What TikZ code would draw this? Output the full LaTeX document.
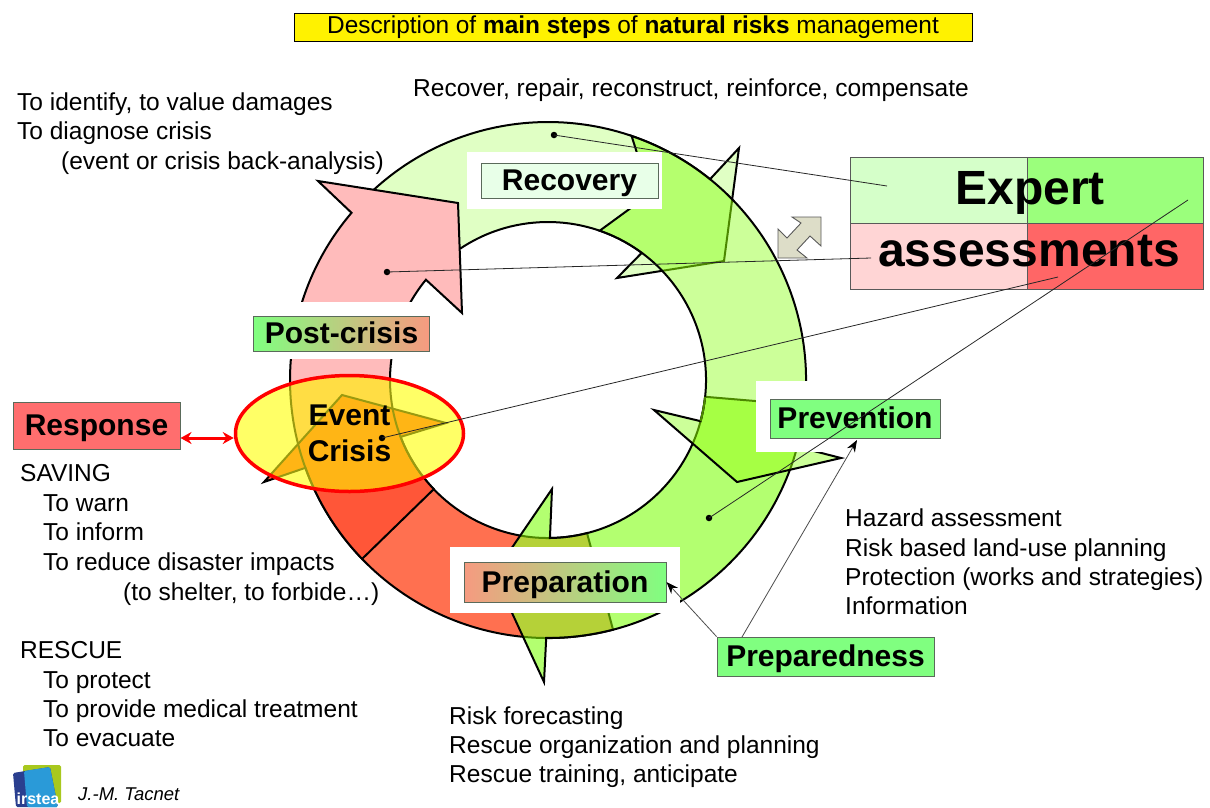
\documentclass[tikz,border=0pt]{standalone}
\usepackage{fontspec}
\setmainfont{Liberation Sans}
\usetikzlibrary{arrows.meta,shapes.geometric}
\definecolor{cRec}{HTML}{E0FFC4}
\definecolor{cRecOv}{HTML}{B5FF6E}
\definecolor{cPrev}{HTML}{CCFF99}
\definecolor{cPrevOv}{HTML}{A6FF44}
\definecolor{cPrep}{HTML}{B3FF70}
\definecolor{cPrepOv}{HTML}{B5D138}
\definecolor{cRed}{HTML}{FF7050}
\definecolor{cRedOv}{HTML}{FF5638}
\definecolor{cPink}{HTML}{FFBBBB}
\definecolor{cDk}{HTML}{4C8800}
\definecolor{cOl}{HTML}{9A9A10}
\definecolor{cEllY}{HTML}{FFFF66}
\definecolor{cEllP}{HTML}{FFDD44}
\definecolor{cEllO}{HTML}{FFB515}
\definecolor{cGreenBox}{HTML}{80FF80}
\definecolor{cSalmon}{HTML}{F69A80}
\definecolor{cEdge}{HTML}{5A6A5A}
\definecolor{cRecBox}{HTML}{E8FFE8}
\definecolor{cResp}{HTML}{FF6E6E}
\definecolor{cGrey}{HTML}{DDDDC8}
\definecolor{cTL}{HTML}{D5FFC9}
\definecolor{cTR}{HTML}{9BFF7C}
\definecolor{cBL}{HTML}{FFD5D5}
\definecolor{cBR}{HTML}{FF6666}
\definecolor{cLogoG}{HTML}{A8C81E}
\definecolor{cLogoB}{HTML}{2A9AD8}
\definecolor{cLogoN}{HTML}{2A3F8F}
% ring paths (angles run clockwise on screen because the y axis points down)
\newcommand{\pathRec}{([shift={(548,380)}]227.6:258) arc[start angle=227.6,end angle=308.9,radius=258] -- (739,148) -- (724,261) -- (617,278) -- ([shift={(548,380)}]306.4:158) arc[start angle=306.4,end angle=236.5,radius=158] -- cycle}
\newcommand{\pathPrev}{([shift={(548,380)}]288.9:258) arc[start angle=288.9,end angle=375,radius=258] -- (841,458) -- (737,482) -- (654,410) -- ([shift={(548,380)}]15.1:158) arc[start angle=375.1,end angle=289.1,radius=158] -- (650,194) -- cycle}
\newcommand{\pathPrep}{([shift={(548,380)}]5.6:258) arc[start angle=5.6,end angle=90.4,radius=258] -- (544,682) -- (494,574) -- (552,489) -- ([shift={(548,380)}]89.3:158) arc[start angle=89.3,end angle=6.1,radius=158] -- cycle}
\newcommand{\pathRed}{([shift={(548,380)}]75.4:258) arc[start angle=75.4,end angle=160.1,radius=258] -- (264,482) -- (342,395) -- (446,423) -- ([shift={(548,380)}]158.9:158) arc[start angle=158.9,end angle=75.7,radius=158] -- cycle}
\newcommand{\pathPink}{([shift={(548,380)}]136.1:258) arc[start angle=136.1,end angle=220.4,radius=258] -- (318,181) -- (458,203) -- (462,313) -- ([shift={(548,380)}]219.4:158) arc[start angle=219.4,end angle=136.3,radius=158] -- cycle}
\tikzset{
  x=1pt,y=-1pt,
  ringline/.style={line width=2pt,line join=miter},
  plain/.style={anchor=base west,inner sep=0pt,font=\fontsize{24.5}{29}\selectfont},
  lab/.style={draw=cEdge,line width=1pt,anchor=center,inner sep=0pt,text height=20pt,text depth=0pt,font=\fontsize{30}{34}\selectfont\bfseries},
  dotn/.style={circle,fill=black,inner sep=0pt,minimum size=6.5pt},
  leader/.style={line width=0.8pt,draw=black!85},
  bigw/.style={anchor=center,inner sep=0pt,font=\fontsize{48}{52}\selectfont\bfseries},
  tiparrow/.style={line width=0.8pt,draw=black!70,-{Stealth[length=12pt,width=9pt,black]}}
}
\begin{document}
\begin{tikzpicture}
\useasboundingbox (0,0) rectangle (1210,807);
% red arrow, recovery arrow
\fill[cRed] \pathRed;
\draw[ringline] \pathRed;
\fill[cRec] \pathRec;
\draw[ringline] \pathRec;
% pink arrow
\fill[cPink] \pathPink;
\begin{scope}\clip \pathPink; \fill[cRedOv] \pathRed; \end{scope}
\draw[ringline] \pathPink;
% preparation arrow over red
\fill[cPrep] \pathPrep;
\begin{scope}\clip \pathPrep; \fill[cPrepOv] \pathRed; \draw[ringline,cDk] \pathRed; \end{scope}
\draw[ringline] \pathPrep;
% prevention arrow over recovery and preparation
\fill[cPrev] \pathPrev;
\begin{scope}\clip \pathPrev;
  \fill[cRecOv] \pathRec; \fill[cPrevOv] \pathPrep;
  \draw[ringline,cDk] \pathRec; \draw[ringline,cDk] \pathPrep;
\end{scope}
\draw[ringline] \pathPrev;
\draw[ringline,cDk] ([shift={(548,380)}]5.6:258) arc[start angle=5.6,end angle=15,radius=258];
\draw[ringline,cDk] ([shift={(548,380)}]6.1:158) arc[start angle=6.1,end angle=15.1,radius=158];
% white label backgrounds
\fill[white] (467,152) rectangle (662,209);
\fill[white] (245,302) rectangle (436,359);
\fill[white] (756,381) rectangle (945,452);
\fill[white] (450,547) rectangle (680,613);
% event ellipse interior
\begin{scope}
  \clip (349.5,434) ellipse [x radius=114,y radius=58];
  \fill[cEllY] (230,370) rectangle (470,500);
  \fill[cEllP] \pathPink;
  \fill[cEllO] \pathRed;
  \draw[ringline,cOl] \pathPink;
  \draw[ringline,cOl] \pathRed;
\end{scope}
\node[ellipse,draw=red,line width=3.5pt,minimum width=228pt,minimum height=116pt,inner sep=0pt,align=center,font=\fontsize{30}{36}\selectfont\bfseries] (eventcrisis) at (349.5,433.5) {Event\\Crisis};
% label boxes
\node[lab,fill=cRecBox,minimum width=177pt,minimum height=35pt] (recovery) at (569.5,180.5) {Recovery};
\node[lab,left color=cGreenBox,right color=cSalmon,minimum width=176pt,minimum height=35pt] (postcrisis) at (341.5,333.5) {Post-crisis};
\node[lab,fill=cGreenBox,minimum width=170pt,minimum height=39pt] (prevention) at (855,418.5) {Prevention};
\node[lab,left color=cSalmon,right color=cGreenBox,minimum width=202pt,minimum height=40pt] (preparation) at (565,582) {Preparation};
\node[lab,fill=cGreenBox,minimum width=217pt,minimum height=39pt] (preparedness) at (825.5,656.5) {Preparedness};
\node[lab,fill=cResp,minimum width=167pt,minimum height=47pt] (response) at (96.5,425.5) {Response};
\node[draw=black,line width=0.9pt,fill=yellow,minimum width=678pt,minimum height=28pt,inner sep=0pt,font=\fontsize{24.4}{29}\selectfont] (title) at (633,27) {Description of \textbf{main steps} of \textbf{natural risks} management};
% expert assessments panel
\fill[cTL] (850,157) rectangle (1027,223);
\fill[cTR] (1027,157) rectangle (1203,223);
\fill[cBL] (850,223) rectangle (1027,289);
\fill[cBR] (1027,223) rectangle (1203,289);
\draw[line width=0.9pt,draw=black!65] (850,157) rectangle (1203,289) (850,223) -- (1203,223) (1027,157) -- (1027,289);
\node[bigw] (expert) at (1030,193) {Expert};
\node[bigw] (assess) at (1029,251) {assessments};
% double block arrow
\draw[line width=0.9pt,draw=black!65,fill=cGrey] (821,217) -- (821,246) -- (810,236) -- (797,250) -- (807,258) -- (778,258) -- (778,229) -- (787,238) -- (801,223) -- (792,217) -- cycle;
% leaders
\node[dotn] (dotrec) at (554,135) {};
\node[dotn] (dotpink) at (387,272) {};
\node[dotn] (dotcrisis) at (382,438) {};
\node[dotn] (dotprep) at (709,518) {};
\coordinate (endrec) at (887,186);
\coordinate (endpink) at (871,258);
\coordinate (endcrisis) at (1058,277);
\coordinate (endprep) at (1188,200);
\draw[leader] (dotrec.center) -- (endrec);
\draw[leader] (dotpink.center) -- (endpink);
\draw[leader] (dotcrisis.center) -- (endcrisis);
\draw[leader] (dotprep.center) -- (endprep);
% connectors
\draw[tiparrow] (preparedness.north west) -- (preparation.east);
\coordinate (pa) at (742,637);
\coordinate (pb) at (857,440);
\draw[tiparrow] (pa) -- (pb);
\draw[red,line width=3pt,{Stealth[length=11pt,width=12pt]}-{Stealth[length=11pt,width=12pt]}] (response.east |- 0,438) -- (eventcrisis.west |- 0,438);
% text
\node[plain] (t1) at (413,96) {Recover, repair, reconstruct, reinforce, compensate};
\node[plain] (t2) at (17,110) {To identify, to value damages};
\node[plain] (t3) at (17,139) {To diagnose crisis};
\node[plain] (t4) at (61,169) {(event or crisis back-analysis)};
\node[plain] (t5) at (20,481) {SAVING};
\node[plain] (t6) at (43,511) {To warn};
\node[plain] (t7) at (43,540) {To inform};
\node[plain] (t8) at (43,570) {To reduce disaster impacts};
\node[plain] (t9) at (123,600) {(to shelter, to forbide…)};
\node[plain] (t10) at (20,658) {RESCUE};
\node[plain] (t11) at (43,688) {To protect};
\node[plain] (t12) at (43,717) {To provide medical treatment};
\node[plain] (t13) at (43,746) {To evacuate};
\node[plain] (t14) at (845,526) {Hazard assessment};
\node[plain] (t15) at (845,556) {Risk based land-use planning};
\node[plain] (t16) at (845,585) {Protection (works and strategies)};
\node[plain] (t17) at (845,614) {Information};
\node[plain] (t18) at (449,724) {Risk forecasting};
\node[plain] (t19) at (449,753) {Rescue organization and planning};
\node[plain] (t20) at (449,782) {Rescue training, anticipate};
% logo and author
\fill[cLogoG,rounded corners=1.5pt] (23,765) rectangle (61,803);
\fill[cLogoN,rounded corners=1.5pt] (13,773) -- (50,767) -- (58,807) -- (16,807) -- cycle;
\fill[cLogoB,rounded corners=1.5pt] (24,771) -- (50,767) -- (58,807) -- (27,807) -- cycle;
\node[anchor=base,inner sep=0pt,text=white,font=\fontsize{16}{16}\selectfont\bfseries] (logo) at (38,804) {irstea};
\node[anchor=base west,inner sep=0pt,font=\fontsize{18.5}{20}\selectfont\itshape] (author) at (78,800) {J.-M. Tacnet};
\end{tikzpicture}
\end{document}
